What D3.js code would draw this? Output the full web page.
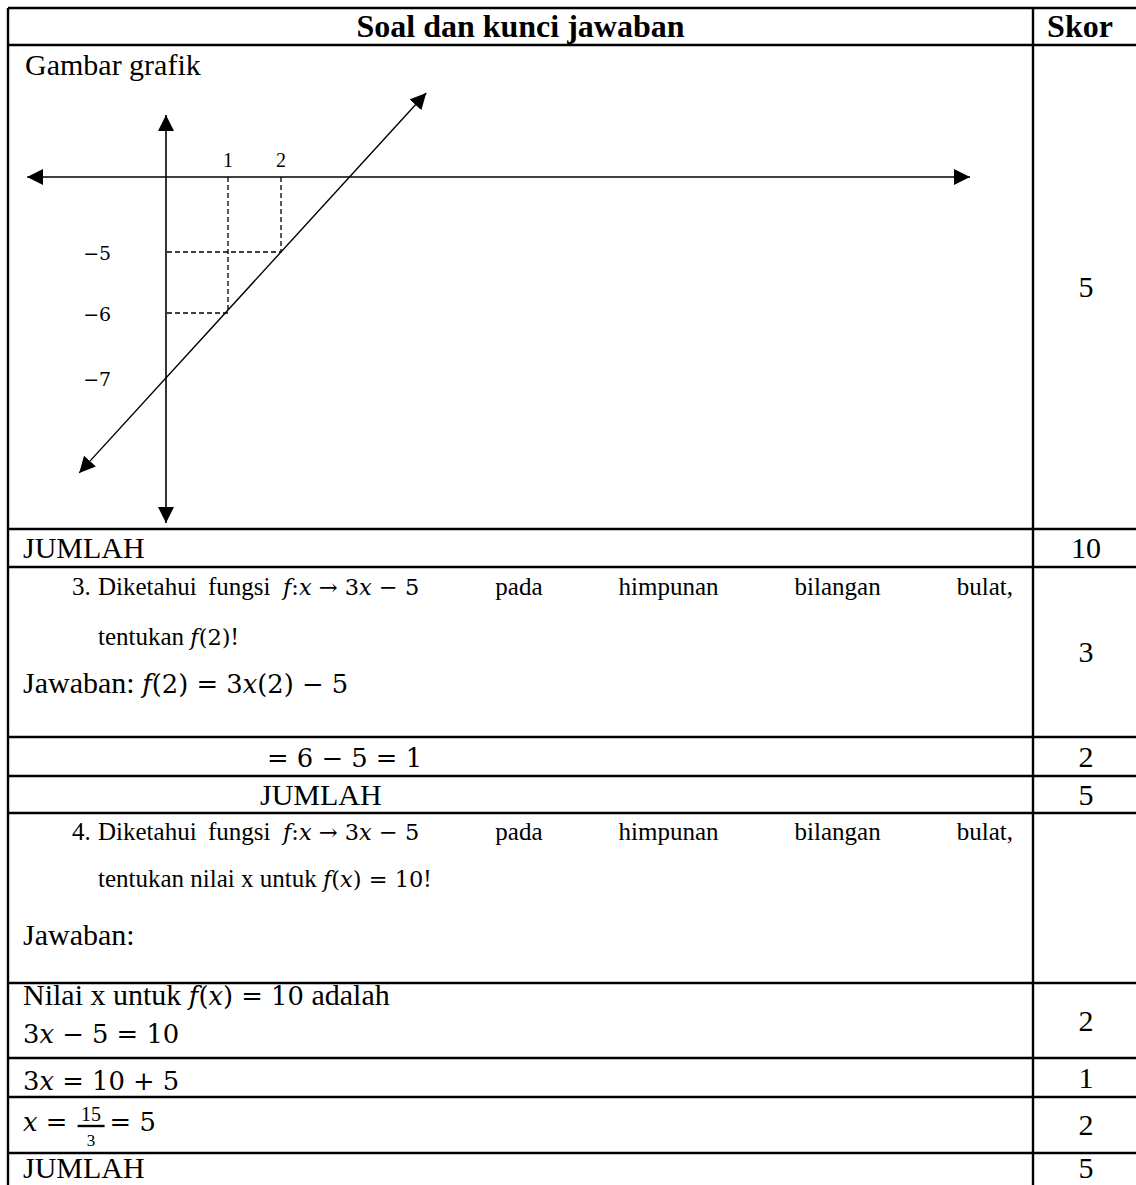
<!DOCTYPE html>
<html>
<head>
<meta charset="utf-8">
<script src="https://cdn.jsdelivr.net/npm/d3@7"></script>
<style>
  body { margin: 0; background: #fff; }
  text { white-space: pre; }
</style>
</head>
<body>
<div id="svgContainer"></div>
<script>
const width = 1136;
const height = 1185;

// ---- graph data (sketch units, the picture draws the line through (0,-7), (1,-6), (2,-5)) ----
const xTicks = [1, 2];
const yTicks = [-5, -6, -7];
const guidePoints = [{x: 1, y: -6}, {x: 2, y: -5}];
const lineEnds = [{x: -1.4, y: -8.46}, {x: 4.74, y: 5.6}];
const xAxisEnds = [-2.24, 15.0];
const yAxisEnds = [4.13, -9.23];

// ---- table data ----
const headerLabels = ["Soal dan kunci jawaban", "Skor"];
const scores = ["5", "10", "3", "2", "5", "", "2", "1", "2", "5"];
const graphTitle = "Gambar grafik";
const q3Line1 = ["Diketahui", "fungsi", "$f:x → 3x − 5$", "pada", "himpunan", "bilangan", "bulat,"];
const q3Rest = ["tentukan $f(2)$!", "Jawaban: $f(2) = 3x(2) − 5$"];
const q3Step = "$= 6 − 5 = 1$";
const q4Line1 = ["Diketahui", "fungsi", "$f:x → 3x − 5$", "pada", "himpunan", "bilangan", "bulat,"];
const q4Rest = ["tentukan nilai x untuk $f(x) = 10$!", "Jawaban:"];
const q4Steps = ["Nilai x untuk $f(x) = 10$ adalah", "$3x − 5 = 10$", "$3x = 10 + 5$"];
const fracParts = ["$x = $", "15", "3", "$= 5$"];
const totalLabel = "JUMLAH";

// ---- layout ----
const tableLeft = 8, tableRight = 1140, colX = 1033, tableTop = 8;
const rowEdges = [45, 529, 567, 737, 776, 813, 983, 1058, 1097, 1153, 1195];
const FS = 30;          // body font size
const QS = 25;          // font size of the question paragraphs
const firstWordsX = [98, 208, 283];   // where the first three tokens of a question start
const SERIF = "'Liberation Serif','Times New Roman',serif";
const MATH = "'DejaVu Serif',serif";

const svg = d3.select("#svgContainer").append("svg")
  .attr("width", width)
  .attr("height", height)
  .style("background", "#fff");

// text helper: "$...$" = math segment, letters inside math in italic
function addText(g, str, x, y, opt = {}) {
  const size = opt.size || FS;
  const t = g.append("text")
    .attr("transform", `translate(${x},${y})`)
    .attr("text-anchor", opt.anchor || "start")
    .attr("font-family", SERIF)
    .attr("font-size", size)
    .attr("font-weight", opt.bold ? "bold" : "normal")
    .attr("fill", "#000");
  str.split("$").forEach((seg, i) => {
    if (!seg) return;
    if (i % 2 === 0) {
      t.append("tspan").text(seg);
    } else {
      seg.split(/([a-z])/).forEach(p => {
        if (!p) return;
        t.append("tspan")
          .attr("font-family", MATH)
          .attr("font-size", size * (opt.mathScale || 0.86))
          .attr("font-style", /^[a-z]$/.test(p) ? "italic" : "normal")
          .text(p);
      });
    }
  });
  t.node().__w = t.node().getComputedTextLength();
  return t;
}

// first line of a question: fixed start of the first tokens, the rest justified to x1
function questionLine(g, words, x1, y) {
  const nodes = words.map(w => addText(g, w, 0, y, {size: QS, mathScale: 0.9}));
  const k = firstWordsX.length;
  nodes.slice(0, k).forEach((n, i) => n.attr("transform", `translate(${firstWordsX[i]},${y})`));
  const rest = nodes.slice(k);
  let x = firstWordsX[k - 1] + nodes[k - 1].node().__w;
  const gap = (x1 - x - d3.sum(rest, n => n.node().__w)) / rest.length;
  rest.forEach(n => {
    x += gap;
    n.attr("transform", `translate(${x},${y})`);
    x += n.node().__w;
  });
}

const txt = svg.append("g");

// header
addText(txt, headerLabels[0], (tableLeft + colX) / 2, 37, {bold: true, anchor: "middle", size: 32});
addText(txt, headerLabels[1], 1080, 37, {bold: true, anchor: "middle", size: 32});

// scores
scores.forEach((s, i) => {
  if (!s) return;
  const mid = (rowEdges[i] + rowEdges[i + 1]) / 2;
  addText(txt, s, 1086, Math.min(mid + 10, 1178), {anchor: "middle"});
});

// graph row
addText(txt, graphTitle, 25, 75);
addText(txt, totalLabel, 23, 558);

// question 3
addText(txt, "3.", 72, 595, {size: QS});
questionLine(txt, q3Line1, 1013, 595);
addText(txt, q3Rest[0], 98, 645, {size: QS, mathScale: 0.9});
addText(txt, q3Rest[1], 23, 693);
addText(txt, q3Step, 267, 767);
addText(txt, totalLabel, 260, 805);

// question 4
addText(txt, "4.", 72, 840, {size: QS});
questionLine(txt, q4Line1, 1013, 840);
addText(txt, q4Rest[0], 98, 887, {size: QS, mathScale: 0.9});
addText(txt, q4Rest[1], 23, 945);
addText(txt, q4Steps[0], 23, 1005);
addText(txt, q4Steps[1], 23, 1043);
addText(txt, q4Steps[2], 23, 1090);

// fraction line x = 15/3 = 5
const fx = addText(txt, fracParts[0], 23, 1131);
const barX0 = 23 + fx.node().__w + 2, barW = 27;
svg.append("line").attr("x1", barX0).attr("x2", barX0 + barW)
  .attr("y1", 1126).attr("y2", 1126).attr("stroke", "#000").attr("stroke-width", 2.4);
addText(txt, fracParts[1], barX0 + barW / 2, 1121, {anchor: "middle", size: 20});
addText(txt, fracParts[2], barX0 + barW / 2, 1146, {anchor: "middle", size: 17});
addText(txt, fracParts[3], barX0 + barW + 5, 1131);

addText(txt, totalLabel, 23, 1178);

// ---- table grid (drawn over the text) ----
const grid = svg.append("g").attr("stroke", "#000").attr("stroke-width", 2.4);
[tableTop].concat(rowEdges).forEach(y => {
  grid.append("line").attr("x1", tableLeft).attr("x2", tableRight).attr("y1", y).attr("y2", y);
});
[tableLeft, colX].forEach(x => {
  grid.append("line").attr("x1", x).attr("x2", x).attr("y1", tableTop).attr("y2", height + 10);
});

// ---- graph ----
const x = d3.scaleLinear().domain([0, 1, 2]).range([166, 228, 281]);
const y = d3.scaleLinear().domain([-7, -6, -5, 0]).range([378, 313, 252, 177]);

const defs = svg.append("defs");
defs.append("marker")
  .attr("id", "arrow")
  .attr("viewBox", "0 0 10 10")
  .attr("refX", 10).attr("refY", 5)
  .attr("markerUnits", "userSpaceOnUse")
  .attr("markerWidth", 16).attr("markerHeight", 16)
  .attr("orient", "auto-start-reverse")
  .append("path").attr("d", "M0,0L10,5L0,10Z").attr("fill", "#000");

const plot = svg.append("g");
const line = d3.line().x(d => x(d.x)).y(d => y(d.y));

// axes
plot.append("path")
  .datum(xAxisEnds.map(v => ({x: v, y: 0})))
  .attr("d", line).attr("fill", "none").attr("stroke", "#000").attr("stroke-width", 1.6)
  .attr("marker-start", "url(#arrow)").attr("marker-end", "url(#arrow)");
plot.append("path")
  .datum(yAxisEnds.map(v => ({x: 0, y: v})))
  .attr("d", line).attr("fill", "none").attr("stroke", "#000").attr("stroke-width", 1.6)
  .attr("marker-start", "url(#arrow)").attr("marker-end", "url(#arrow)");

// dashed guides
guidePoints.forEach(p => {
  plot.append("path").datum([{x: p.x, y: 0}, p, {x: 0, y: p.y}])
    .attr("d", line).attr("fill", "none").attr("stroke", "#000")
    .attr("stroke-width", 1.3).attr("stroke-dasharray", "5,3");
});

// the function line
plot.append("path").datum(lineEnds)
  .attr("d", line).attr("fill", "none").attr("stroke", "#000").attr("stroke-width", 1.4)
  .attr("marker-start", "url(#arrow)").attr("marker-end", "url(#arrow)");

// tick labels
xTicks.forEach(v => addText(plot, String(v), x(v), 167, {anchor: "middle", size: 20}));
yTicks.forEach(v => addText(plot, "$−" + Math.abs(v) + "$", 111, y(v) + 8, {anchor: "end", size: 22}));
</script>
</body>
</html>
